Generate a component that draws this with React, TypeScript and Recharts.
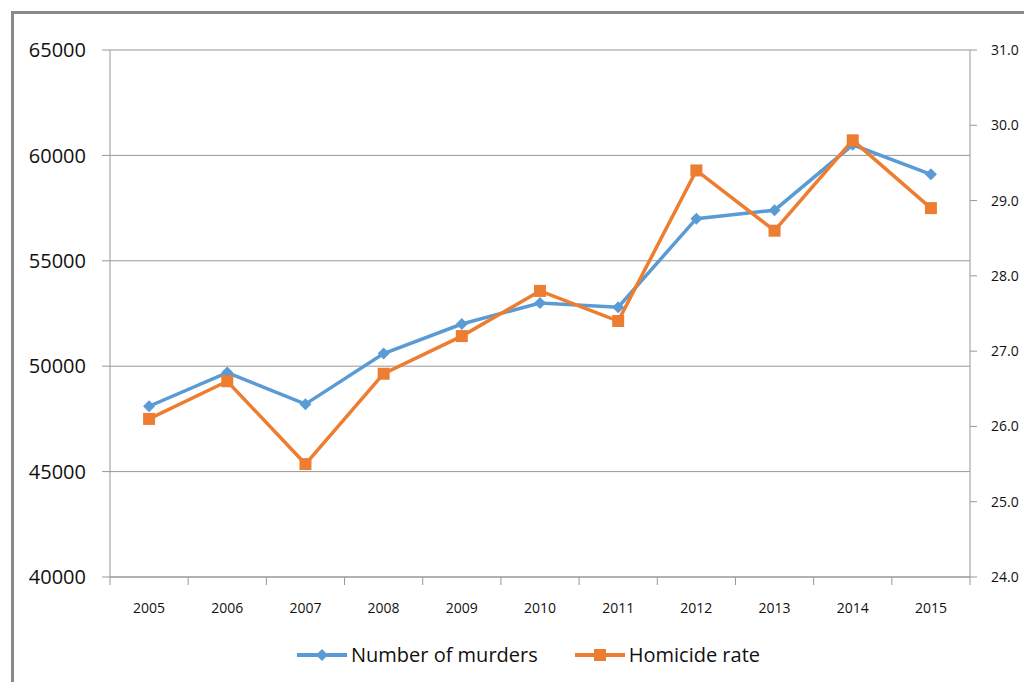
import { LineChart, Line, XAxis, YAxis, CartesianGrid, Legend } from "recharts"

const years = ["2005", "2006", "2007", "2008", "2009", "2010", "2011", "2012", "2013", "2014", "2015"]
const murders = [48100, 49700, 48200, 50600, 52000, 53000, 52800, 57000, 57400, 60500, 59100]
const homicideRate = [26.1, 26.6, 25.5, 26.7, 27.2, 27.8, 27.4, 29.4, 28.6, 29.8, 28.9]
const leftTicks = [40000, 45000, 50000, 55000, 60000, 65000]
const rightTicks = [24, 25, 26, 27, 28, 29, 30, 31]
const seriesOrder = ["murders", "rate"]

const BLUE = "#5b9bd5"
const ORANGE = "#ed7d31"
const GRAY = "#979797"
const FONT = "'Open Sans', sans-serif"
const PLOT_WIDTH = 860
const HALF_BAND = PLOT_WIDTH / years.length / 2

const data = years.map((year, i) => ({
  year,
  murders: murders[i],
  rate: homicideRate[i],
}))

function YearTick(props: any) {
  const { x, y, payload, index } = props
  return (
    <g>
      <line x1={x - HALF_BAND} x2={x - HALF_BAND} y1={y - 8} y2={y} stroke={GRAY} />
      {index === years.length - 1 && (
        <line x1={x + HALF_BAND} x2={x + HALF_BAND} y1={y - 8} y2={y} stroke={GRAY} />
      )}
      <text x={x} y={y + 28} textAnchor="middle" fontFamily={FONT} fontSize={14} fill="#111">
        {payload.value}
      </text>
    </g>
  )
}

function Diamond(props: any) {
  const { cx, cy } = props
  const r = 6
  return <path d={`M${cx},${cy - r}L${cx + r},${cy}L${cx},${cy + r}L${cx - r},${cy}Z`} fill={BLUE} />
}

function Square(props: any) {
  const { cx, cy } = props
  const s = 12
  return <rect x={cx - s / 2} y={cy - s / 2} width={s} height={s} fill={ORANGE} />
}

function LegendContent(props: any) {
  const { payload = [] } = props
  const items = [...payload].sort(
    (a: any, b: any) => seriesOrder.indexOf(a.dataKey) - seriesOrder.indexOf(b.dataKey)
  )
  return (
    <div
      style={{
        display: "flex",
        justifyContent: "center",
        alignItems: "center",
        height: 55,
        paddingLeft: 32,
        fontFamily: FONT,
        fontSize: 20,
        color: "#111",
      }}
    >
      {items.map((entry: any, i: number) => (
        <div key={entry.value} style={{ display: "flex", alignItems: "center", marginLeft: i ? 36 : 0 }}>
          <svg width={52} height={14}>
            <line x1={1} x2={51} y1={7} y2={7} stroke={entry.color} strokeWidth={4} />
            {entry.dataKey === "murders" ? (
              <path d="M26,1L32,7L26,13L20,7Z" fill={entry.color} />
            ) : (
              <rect x={20} y={1} width={12} height={12} fill={entry.color} />
            )}
          </svg>
          <span style={{ marginLeft: 3 }}>{entry.value}</span>
        </div>
      ))}
    </div>
  )
}

export default function App() {
  return (
    <div style={{ position: "absolute", left: 0, top: 0, width: 1024, height: 682, background: "#fff", overflow: "hidden" }}>
      <div
        style={{
          position: "absolute",
          left: 11,
          top: 11,
          width: 1100,
          height: 800,
          border: "3px solid #8a8a8a",
        }}
      />
      <div style={{ position: "absolute", left: 0, top: 0 }}>
        <LineChart width={1024} height={682} data={data} margin={{ top: 50, right: 0, bottom: 0, left: 0 }}>
          <CartesianGrid vertical={false} stroke={GRAY} yAxisId="left" />
          <XAxis
            dataKey="year"
            height={50}
            tickSize={8}
            tickMargin={0}
            tickLine={false}
            axisLine={{ stroke: GRAY }}
            tick={<YearTick />}
            interval={0}
            padding={{ left: HALF_BAND, right: HALF_BAND }}
          />
          <YAxis
            yAxisId="left"
            width={110}
            domain={[40000, 65000]}
            ticks={leftTicks}
            tickSize={8}
            tickMargin={16}
            tickLine={{ stroke: GRAY }}
            axisLine={{ stroke: GRAY }}
            tick={{ fontFamily: FONT, fontSize: 20, fill: "#111" }}
          />
          <YAxis
            yAxisId="right"
            orientation="right"
            width={54}
            domain={[24, 31]}
            ticks={rightTicks}
            tickSize={7}
            tickMargin={14}
            tickLine={{ stroke: GRAY }}
            axisLine={{ stroke: GRAY }}
            tickFormatter={(v: number) => v.toFixed(1)}
            tick={{ fontFamily: FONT, fontSize: 14, fill: "#111", textAnchor: "start" }}
          />
          <Legend verticalAlign="bottom" height={55} content={<LegendContent />} />
          <Line
            yAxisId="left"
            type="linear"
            dataKey="murders"
            name="Number of murders"
            stroke={BLUE}
            strokeWidth={3.5}
            dot={<Diamond />}
            activeDot={false}
            isAnimationActive={false}
          />
          <Line
            yAxisId="right"
            type="linear"
            dataKey="rate"
            name="Homicide rate"
            stroke={ORANGE}
            strokeWidth={3.5}
            dot={<Square />}
            activeDot={false}
            isAnimationActive={false}
          />
        </LineChart>
      </div>
    </div>
  )
}
